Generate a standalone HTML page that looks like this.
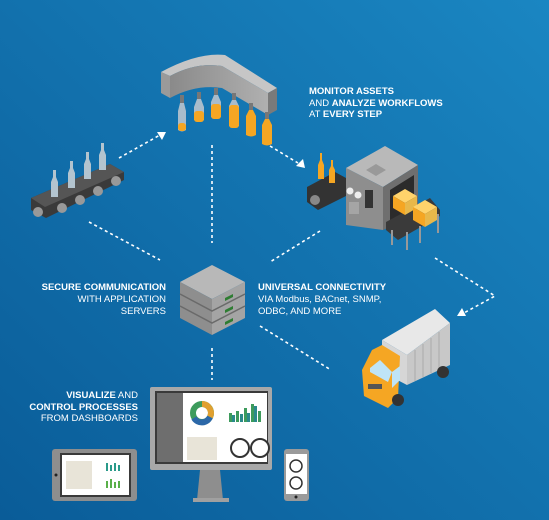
<!DOCTYPE html>
<html><head><meta charset="utf-8"><style>
html,body{margin:0;padding:0;width:549px;height:520px;overflow:hidden}
svg{display:block}
text{font-family:"Liberation Sans",sans-serif;fill:#fff;font-size:9.5px}
.b{font-weight:bold}
</style></head><body>
<svg width="549" height="520" viewBox="0 0 549 520" xmlns="http://www.w3.org/2000/svg">
<defs>
<linearGradient id="bg" x1="1" y1="0" x2="0" y2="1">
<stop offset="0" stop-color="#1a86c2"/><stop offset="1" stop-color="#0a5c98"/>
</linearGradient>
<linearGradient id="gr" x1="0" y1="0" x2="1" y2="0"><stop offset="0" stop-color="#8a8a8a"/><stop offset="1" stop-color="#b0b0b0"/></linearGradient>
</defs>
<rect width="549" height="520" fill="url(#bg)"/>
<g stroke="#fff" stroke-width="1.6" stroke-dasharray="3,3" fill="none">
<path d="M119,158 L160,135"/>
<path d="M270,146 L298,163"/>
<path d="M212,145 L212,243"/>
<path d="M89,222 L160,260"/>
<path d="M320,231 L270,262"/>
<path d="M435,258 L495,296 L462,314"/>
<path d="M260,326 L331,370"/>
<path d="M212,348 L212,380"/>
</g>
<g fill="#fff">
<polygon points="157,132 166,132 162,140"/>
<polygon points="296,166 303,159 305,168"/>
<polygon points="457,316 466,316 462,308"/>
</g>
<!-- filler arch -->
<path d="M161,72 Q198,52 225,55 L277,88 L268,93 L222,66 Q196,62 170,76 Z" fill="#c6c6c6"/>
<path d="M170,76 Q196,62 222,66 L268,93 L268,115 L222,88 Q196,84 170,98 Z" fill="url(#gr)"/>
<polygon points="161,72 170,76 170,98 161,93" fill="#9a9a9a"/>
<polygon points="268,93 277,88 277,110 268,115" fill="#7a7a7a"/>
<g>
<g transform="translate(182,95)"><rect x="-2" y="0" width="4" height="8" fill="#777"/><path d="M-2,8 L2,8 L4,16 L4,35 Q0,38 -4,35 L-4,16 Z" fill="#a9bccb"/><rect x="-4" y="28" width="8" height="8" rx="3" fill="#f5a623"/></g>
<g transform="translate(199,92)"><rect x="-2" y="0" width="4" height="7" fill="#777"/><path d="M-2,7 L2,7 L5,15 L5,28 Q0,31 -5,28 L-5,15 Z" fill="#a9bccb"/><rect x="-5" y="19" width="10" height="11" rx="3" fill="#f5a623"/></g>
<g transform="translate(216,88)"><rect x="-2" y="0" width="4" height="7" fill="#777"/><path d="M-2,7 L2,7 L5,14 L5,29 Q0,32 -5,29 L-5,14 Z" fill="#a9bccb"/><rect x="-5" y="16" width="10" height="15" rx="3" fill="#f5a623"/></g>
<g transform="translate(234,93)"><rect x="-2" y="0" width="4" height="7" fill="#777"/><path d="M-2,7 L2,7 L5,13 L5,33 Q0,36 -5,33 L-5,13 Z" fill="#a9bccb"/><rect x="-5" y="12" width="10" height="23" rx="3" fill="#f5a623"/></g>
<g transform="translate(251,103)"><rect x="-2" y="0" width="4" height="7" fill="#777"/><path d="M-2,7 L2,7 L5,13 L5,32 Q0,35 -5,32 L-5,13 Z" fill="#f5a623"/></g>
<g transform="translate(267,112)"><rect x="-2" y="0" width="4" height="7" fill="#777"/><path d="M-2,7 L2,7 L5,13 L5,32 Q0,35 -5,32 L-5,13 Z" fill="#f5a623"/></g>
</g>
<!-- left conveyor -->
<polygon points="31,198 110,164 124,172 124,180 46,218 31,210" fill="#3a3a3a"/>
<polygon points="31,198 110,164 124,172 45,207" fill="#555"/>
<g fill="#999"><circle cx="62" cy="208" r="5"/><circle cx="80" cy="200" r="5"/><circle cx="98" cy="191" r="5"/><circle cx="116" cy="181" r="5"/><circle cx="38" cy="212" r="5"/></g>
<g fill="#b3c4cf">
<path d="M53,170 L53,177 L51,182 L51,197 L58,197 L58,182 L56,177 L56,170 Z"/>
<path d="M70,161 L70,168 L68,173 L68,188 L75,188 L75,173 L73,168 L73,161 Z"/>
<path d="M86,152 L86,159 L84,164 L84,179 L91,179 L91,164 L89,159 L89,152 Z"/>
<path d="M101,143 L101,150 L99,155 L99,170 L106,170 L106,155 L104,150 L104,143 Z"/>
</g>
<!-- machine -->
<polygon points="307,187 335,172 346,178 346,196 318,210 307,202" fill="#333"/>
<circle cx="315" cy="200" r="5" fill="#888"/>
<path d="M320,153 L320,160 L318,165 L318,179 L324,179 L324,165 L322,160 L322,153 Z" fill="#f5a623"/>
<path d="M331,160 L331,166 L329,170 L329,183 L335,183 L335,170 L333,166 L333,160 Z" fill="#f5a623"/>
<polygon points="346,168 385,146 418,165 383,187" fill="#b9b9b9"/>
<polygon points="366,170 376,164 386,170 376,176" fill="#999"/>
<polygon points="346,168 383,187 383,230 346,225" fill="#8e8e8e"/>
<polygon points="383,187 418,165 418,215 383,230" fill="#6f6f6f"/>
<polygon points="390,190 414,175 414,210 390,222" fill="#2b2b2b"/>
<circle cx="350" cy="191" r="3.5" fill="#eee"/><circle cx="358" cy="195" r="3.5" fill="#eee"/>
<rect x="365" y="190" width="8" height="18" fill="#333"/>
<rect x="349" y="202" width="10" height="12" fill="#a5a5a5"/>
<polygon points="386,222 430,198 440,210 440,216 398,240 386,230" fill="#3a3a3a"/>
<g stroke="#999" stroke-width="2"><path d="M392,230 L392,245"/><path d="M407,232 L407,250"/><path d="M420,226 L420,243"/><path d="M438,214 L438,233"/></g>
<polygon points="393,196 405,189 417,196 405,203" fill="#ffd36b"/>
<polygon points="393,196 405,203 405,215 393,208" fill="#f5a623"/>
<polygon points="405,203 417,196 417,208 405,215" fill="#e8b84a"/>
<polygon points="413,207 425,200 437,207 425,214" fill="#ffd36b"/>
<polygon points="413,207 425,214 425,227 413,220" fill="#f5a623"/>
<polygon points="425,214 437,207 437,220 425,227" fill="#e8b84a"/>
<!-- server -->
<g>
<polygon points="180,282 212,265 245,282 212,299" fill="#b8b8b8"/>
<polygon points="180,282 212,299 212,335 180,318" fill="#8e8e8e"/>
<polygon points="212,299 245,282 245,318 212,335" fill="#a4a4a4"/>
<g stroke="#6a6a6a" stroke-width="1.5" fill="none"><path d="M180,294 L212,311 L245,294"/><path d="M180,306 L212,323 L245,306"/></g>
<g fill="#2e7d32"><polygon points="225,298 233,294 233,297 225,301"/><polygon points="225,310 233,306 233,309 225,313"/><polygon points="225,322 233,318 233,321 225,325"/></g>
</g>
<!-- truck -->
<polygon points="382,340 435,309 450,323 407,355" fill="#e8e8e8"/>
<polygon points="382,340 407,355 407,385 382,372" fill="#d6d6d6"/>
<polygon points="407,355 450,323 450,365 407,385" fill="#c8c8c8"/>
<g stroke="#aaa" stroke-width="1"><path d="M415,350 V381"/><path d="M423,344 V377"/><path d="M431,338 V373"/><path d="M439,332 V369"/></g>
<circle cx="443" cy="372" r="6" fill="#333"/>
<polygon points="372,350 382,345 400,356 398,398 388,408 364,396 362,370" fill="#f5a623"/>
<polygon points="370,368 380,360 392,372 388,382 370,372" fill="#bfe4f6"/>
<polygon points="392,372 400,366 400,380 392,388" fill="#bfe4f6"/>
<rect x="368" y="384" width="14" height="5" fill="#555"/>
<circle cx="398" cy="400" r="6" fill="#333"/>
<!-- monitor -->
<rect x="150" y="387" width="122" height="83" rx="2" fill="#a8a8a8"/>
<rect x="155" y="391" width="113" height="73" fill="#3a3a3a"/>
<rect x="157" y="393" width="26" height="69" fill="#6e6e6e"/>
<rect x="183" y="393" width="84" height="69" fill="#fff"/>
<circle cx="202" cy="413" r="9" fill="none" stroke="#3d9b5c" stroke-width="6"/>
<path d="M202,404 A9,9 0 0 1 210,417" stroke="#e0a030" stroke-width="6" fill="none"/>
<path d="M210,417 A9,9 0 0 1 194,418" stroke="#2c68a8" stroke-width="6" fill="none"/>
<g fill="#3d9b5c"><rect x="229" y="413" width="3" height="9"/><rect x="236" y="411" width="3" height="11"/><rect x="244" y="408" width="3" height="14"/><rect x="251" y="404" width="3" height="18"/><rect x="258" y="411" width="3" height="11"/></g>
<g fill="#2a8a8a"><rect x="232" y="415" width="3" height="7"/><rect x="240" y="414" width="3" height="8"/><rect x="247" y="413" width="3" height="9"/><rect x="254" y="406" width="3" height="16"/></g>
<rect x="187" y="437" width="30" height="23" fill="#e8e4d8"/>
<circle cx="240" cy="448" r="9" fill="#fff" stroke="#333" stroke-width="2"/>
<circle cx="260" cy="448" r="9" fill="#fff" stroke="#333" stroke-width="2"/>
<circle cx="210" cy="478" r="3.5" fill="#222"/>
<polygon points="200,470 220,470 223,500 197,500" fill="#8e8e8e"/>
<rect x="193" y="498" width="36" height="4" fill="#a0a0a0"/>
<!-- tablet -->
<rect x="52" y="449" width="85" height="52" rx="3" fill="#8e8e8e"/>
<rect x="60" y="453" width="71" height="44" fill="#3a3a3a"/>
<rect x="62" y="455" width="67" height="40" fill="#fff"/>
<rect x="66" y="461" width="26" height="28" fill="#e8e4d8"/>
<g fill="#2a9a8a"><rect x="106" y="463" width="2" height="8"/><rect x="110" y="465" width="2" height="6"/><rect x="114" y="463" width="2" height="8"/><rect x="118" y="465" width="2" height="6"/></g>
<g fill="#5ab04a"><rect x="106" y="481" width="2" height="7"/><rect x="110" y="479" width="2" height="9"/><rect x="114" y="482" width="2" height="6"/><rect x="118" y="481" width="2" height="7"/></g>
<circle cx="56" cy="475" r="1.5" fill="#222"/>
<!-- phone -->
<rect x="284" y="449" width="25" height="52" rx="3" fill="#9a9a9a"/>
<rect x="286" y="454" width="21" height="40" fill="#fff"/>
<circle cx="296" cy="466" r="6" fill="#fff" stroke="#333" stroke-width="1.5"/>
<circle cx="296" cy="483" r="6" fill="#fff" stroke="#333" stroke-width="1.5"/>
<circle cx="296" cy="497" r="1.5" fill="#222"/>
<!-- text -->
<text x="309" y="94" class="b">MONITOR ASSETS</text>
<text x="309" y="106"><tspan>AND </tspan><tspan class="b">ANALYZE WORKFLOWS</tspan></text>
<text x="309" y="117"><tspan>AT </tspan><tspan class="b">EVERY STEP</tspan></text>
<text x="166" y="290" text-anchor="end" class="b">SECURE COMMUNICATION</text>
<text x="166" y="302" text-anchor="end">WITH APPLICATION</text>
<text x="166" y="314" text-anchor="end">SERVERS</text>
<text x="258" y="290" class="b">UNIVERSAL CONNECTIVITY</text>
<text x="258" y="302">VIA Modbus, BACnet, SNMP,</text>
<text x="258" y="314">ODBC, AND MORE</text>
<text x="138" y="398" text-anchor="end"><tspan class="b">VISUALIZE</tspan><tspan> AND</tspan></text>
<text x="138" y="410" text-anchor="end" class="b">CONTROL PROCESSES</text>
<text x="138" y="421" text-anchor="end">FROM DASHBOARDS</text>
</svg>
</body></html>
